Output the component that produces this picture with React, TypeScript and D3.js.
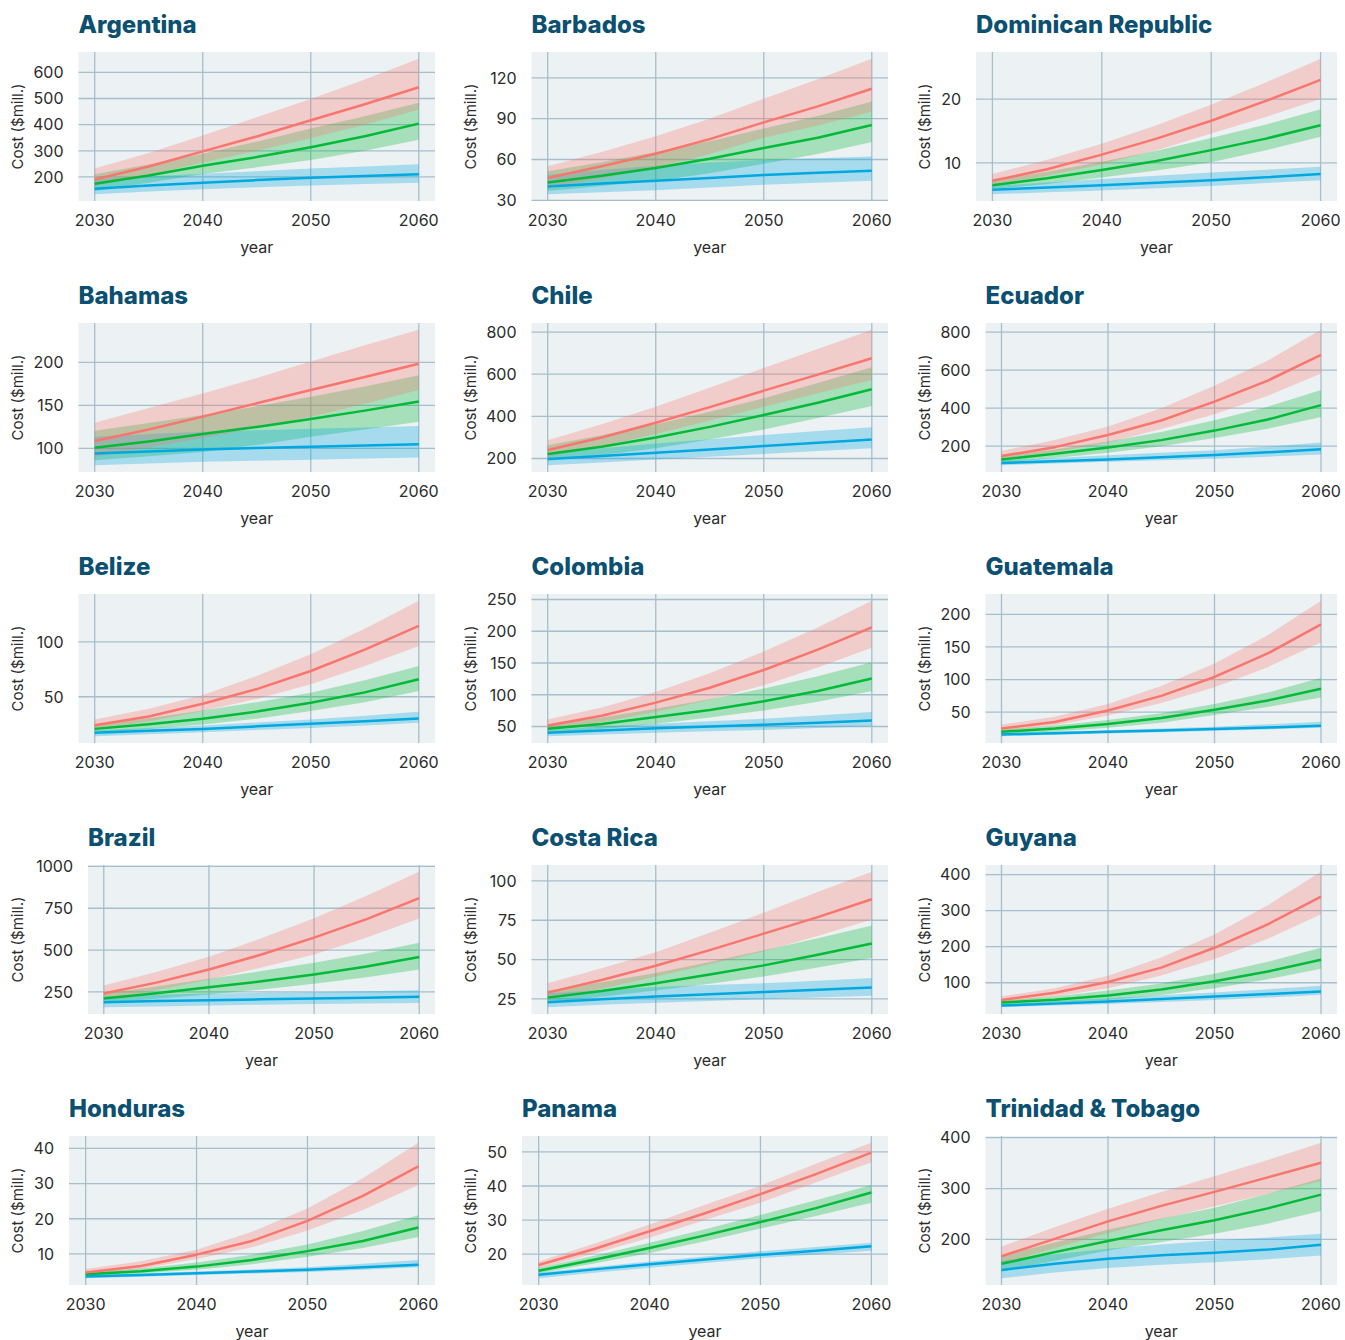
import React from 'react';
import * as d3 from 'd3';

// projection years (every 5 years)
const years = [2030, 2035, 2040, 2045, 2050, 2055, 2060];
const xTicks = [2030, 2040, 2050, 2060];

const countries = [
  'Argentina', 'Barbados', 'Dominican Republic',
  'Bahamas', 'Chile', 'Ecuador',
  'Belize', 'Colombia', 'Guatemala',
  'Brazil', 'Costa Rica', 'Guyana',
  'Honduras', 'Panama', 'Trinidad & Tobago',
];

const yTicks = [
  [200, 300, 400, 500, 600], [30, 60, 90, 120], [10, 20],
  [100, 150, 200], [200, 400, 600, 800], [200, 400, 600, 800],
  [50, 100], [50, 100, 150, 200, 250], [50, 100, 150, 200],
  [250, 500, 750, 1000], [25, 50, 75, 100], [100, 200, 300, 400],
  [10, 20, 30, 40], [20, 30, 40, 50], [200, 300, 400],
];

// red scenario
const redMid = [
  [190, 240, 298, 355, 417, 478, 543],
  [46.4, 55, 64.2, 75, 87.3, 99, 112],
  [7.2, 9.0, 11.3, 13.8, 16.6, 19.7, 23.0],
  [108.6, 122, 137, 152.5, 168, 183, 198.4],
  [240, 300, 370, 444, 522, 598, 676],
  [148, 195, 259, 335, 434, 545, 680],
  [24.1, 32, 43.6, 57, 73.5, 93, 114.6],
  [51.6, 67, 87.6, 111, 139, 171, 206],
  [25, 35, 52.6, 75, 104, 140, 184.5],
  [240, 305, 384, 473, 574, 685, 810],
  [29, 37, 46.1, 56, 66.5, 77, 88.3],
  [52, 72, 102, 142, 197, 262, 339],
  [4.7, 6.6, 9.8, 13.7, 19.4, 26.5, 34.9],
  [16.8, 21.5, 26.7, 32, 37.6, 43.5, 49.8],
  [167, 201, 235.5, 266, 293.4, 322, 350.7],
];
const redLo = [
  [165, 208, 255, 300, 348, 400, 458],
  [39, 46, 54, 64, 76, 85, 95],
  [6.4, 8.0, 9.8, 12.0, 14.6, 17.2, 20.0],
  [90, 101, 112, 124, 137, 152, 168],
  [208, 258, 316, 380, 446, 510, 573],
  [130, 170, 220, 290, 368, 465, 582],
  [20.1, 27.5, 36.9, 48, 61.3, 78, 96.3],
  [43.6, 57, 72.8, 92, 115, 143, 174],
  [21, 30, 44.8, 64, 88.3, 119, 157],
  [204, 260, 324, 395, 474, 575, 688],
  [24.4, 31.5, 39.3, 47, 55.3, 65, 75.5],
  [45, 62, 85, 120, 166, 222, 290],
  [4.0, 5.8, 8.6, 11.9, 16.7, 22.5, 29.6],
  [15.8, 20.2, 24.8, 30, 35.1, 41, 47],
  [152, 183, 212.5, 240, 265, 290, 315],
];
const redHi = [
  [232, 292, 359, 428, 498, 573, 652],
  [55, 65.5, 77, 90, 104.6, 119, 134],
  [8.25, 10.5, 13.0, 15.9, 19.1, 22.6, 26.3],
  [130, 147, 164, 182, 201, 220, 238],
  [287, 362, 446, 536, 629, 720, 811],
  [175, 232, 304, 400, 518, 650, 812],
  [29.3, 39, 51.5, 69, 88.7, 112, 137.5],
  [61, 80, 104.5, 134, 168, 206, 248],
  [31, 43, 62.4, 90, 124.5, 168, 220.7],
  [288, 368, 460, 570, 690, 825, 968],
  [35, 44.5, 54.6, 67, 79.8, 93, 105.8],
  [62, 85, 119.5, 170, 234, 315, 408],
  [5.7, 7.9, 11.2, 16.3, 22.9, 31.5, 41.6],
  [17.8, 23, 28.7, 34.5, 40.1, 46.5, 52.7],
  [186, 224, 260.5, 293, 324, 356, 390],
];

// green scenario
const greenMid = [
  [174, 206, 243, 276, 314, 356, 404],
  [43.1, 48, 53.8, 60.5, 68.4, 76, 85.3],
  [6.5, 7.6, 8.9, 10.3, 12.0, 13.8, 15.9],
  [100.8, 108, 116.7, 125, 134.2, 144, 154.5],
  [221, 256, 300, 350, 406, 465, 529],
  [130, 160, 193, 232, 282, 340, 416],
  [20.7, 25, 29.9, 36.5, 44.5, 54, 65.9],
  [46.3, 54, 64.8, 76, 89.7, 106, 125.7],
  [20, 25, 31.9, 41, 53.6, 68, 86],
  [210, 242, 278, 313, 354, 402, 458],
  [25.8, 30, 35, 40.5, 46.3, 53, 60.2],
  [45, 53, 64.5, 81, 104, 131, 164],
  [4.2, 5.1, 6.4, 8.3, 10.8, 13.7, 17.5],
  [15.1, 18.3, 21.8, 25.5, 29.4, 33.5, 38.1],
  [152, 175, 196.7, 218, 237.5, 261, 288],
];
const greenLo = [
  [146, 178, 211, 237, 265, 300, 342],
  [36.9, 40.5, 44.4, 50, 56.8, 64, 72.9],
  [5.9, 6.7, 7.7, 8.8, 10.1, 12.0, 14.1],
  [86.4, 91, 96, 104, 113.6, 122, 131],
  [189, 215, 248, 290, 338, 392, 449],
  [112, 138, 166, 200, 243, 292, 354],
  [17, 20.5, 24.7, 30, 36.9, 45, 55.2],
  [39.4, 46, 54.2, 64, 75.4, 89, 106],
  [16.4, 20.5, 26, 34, 45.8, 58, 72.7],
  [184, 208, 234, 264, 298, 338, 384],
  [22.6, 26.3, 30.3, 34.6, 39.3, 45, 51],
  [38.4, 44, 52.4, 66, 85, 110, 139],
  [3.8, 4.5, 5.5, 7.1, 9.2, 11.7, 14.8],
  [14.4, 17.2, 20.3, 23.8, 27.5, 31.2, 35.1],
  [137, 158, 178.3, 195, 211, 231, 256],
];
const greenHi = [
  [210, 248, 289, 335, 385, 432, 484],
  [51.3, 58, 65.5, 73.5, 82.8, 92, 102.6],
  [7.2, 8.6, 10.2, 11.9, 13.9, 16.0, 18.4],
  [120.6, 129.5, 139, 149, 160, 172, 185],
  [263, 310, 363, 422, 486, 558, 633],
  [148, 183, 225, 275, 336, 408, 496],
  [24.7, 30.5, 37.5, 45, 53.7, 65, 78],
  [52.6, 64, 78, 93, 109.8, 129, 151],
  [23.6, 29.5, 38, 48.5, 62.4, 80, 102.7],
  [240, 282, 328, 374, 424, 480, 544],
  [30.3, 35.5, 41.4, 48.5, 55.9, 63.5, 71.7],
  [50.5, 62, 78.5, 98, 125, 158, 197],
  [4.7, 5.9, 7.6, 9.8, 12.7, 16.5, 21],
  [16, 19.5, 23.3, 27.3, 31.5, 35.8, 40.3],
  [168.4, 194, 219, 241, 262.5, 290, 319.7],
];

// blue scenario
const blueMid = [
  [155, 167, 178, 188, 197, 204, 210],
  [40.2, 42.3, 44.4, 46.5, 48.6, 50.3, 51.8],
  [5.8, 6.15, 6.5, 6.9, 7.3, 7.75, 8.25],
  [94, 96.5, 98.8, 100.5, 102, 103.5, 105],
  [197, 212, 227, 243, 259, 275, 290],
  [112, 121, 130, 142, 154, 168, 184],
  [17.1, 18.9, 20.7, 23, 25.3, 27.7, 30.2],
  [40, 43.8, 47.3, 50, 52.6, 56, 59.5],
  [15.8, 17.9, 20, 22, 24.1, 26.6, 29.3],
  [188, 195, 200, 205, 210, 215, 220],
  [22.9, 24.8, 26.5, 28, 29.3, 30.8, 32.2],
  [36.5, 42, 47.7, 54.5, 61.7, 68.5, 75.7],
  [3.6, 4.05, 4.5, 5.0, 5.5, 6.2, 6.9],
  [13.9, 15.5, 17, 18.4, 19.8, 21, 22.3],
  [140, 152, 161.8, 169, 173.7, 180, 189.5],
];
const blueLo = [
  [134, 144, 153, 161, 167, 173, 178],
  [34.5, 36, 37.4, 39.4, 41.4, 43, 44.4],
  [5.1, 5.4, 5.7, 6.05, 6.4, 6.85, 7.3],
  [80.5, 82.5, 84.4, 85.7, 87, 88.3, 89.5],
  [168, 181, 195, 208, 221, 235, 248],
  [100, 109, 118, 126, 134, 145, 157],
  [14, 15.8, 17.7, 19.6, 21.6, 23.8, 26.2],
  [34.7, 37.4, 40, 42.4, 44.7, 47.5, 50.5],
  [13.2, 15.3, 17.4, 19.4, 21.5, 23.6, 26],
  [158, 163, 168, 173, 178, 181, 184],
  [19.7, 21.2, 22.6, 23.7, 24.8, 25.9, 27],
  [32, 36.5, 41.2, 46.5, 52.4, 59, 66.4],
  [3.1, 3.55, 4.0, 4.45, 4.9, 5.5, 6.2],
  [12.9, 14.5, 16, 17.4, 18.8, 19.9, 21],
  [123.7, 135, 144, 150, 155, 161, 168.4],
];
const blueHi = [
  [192, 203, 212, 222, 232, 240, 249],
  [48.8, 52.5, 55.5, 57.8, 59.7, 61, 62.2],
  [6.4, 6.95, 7.5, 8.0, 8.5, 8.95, 9.4],
  [113.6, 116.7, 119.5, 121.3, 123, 124.5, 126],
  [224, 248, 271, 291, 311, 330, 348],
  [125, 138, 152, 165, 179, 198, 220],
  [19.5, 21.6, 23.8, 26.5, 29.3, 32.6, 36.3],
  [44.7, 49.5, 54.2, 58.2, 62.2, 67.5, 72.8],
  [18.4, 20.4, 22.5, 25, 27.7, 31.4, 35.5],
  [224, 232, 240, 244, 248, 254, 260],
  [28.6, 30.6, 32.5, 33.8, 35, 36.6, 38.2],
  [41.2, 49, 57, 65, 73, 82, 91.5],
  [4.0, 4.5, 5.0, 5.6, 6.2, 7.2, 8.3],
  [14.6, 16.2, 17.8, 19.3, 20.8, 22.1, 23.3],
  [158.6, 171, 181.6, 190, 198, 204, 211],
];

const RED = '#F8766D';
const GREEN = '#00BA38';
const BLUE = '#00A8E0';
const FONT = 'Inter, "Noto Sans", sans-serif';

const colX = [0, 453, 907];
const rowH = 271;

function Panel({ i }: { i: number }) {
  const row = Math.floor(i / 3);
  const col = i % 3;
  const x0 = colX[col];
  const y0 = row * rowH;
  const ticks = yTicks[i];
  const maxChars = d3.max(ticks, t => String(t).length) as number;

  const left = x0 + 50 + 9.5 * maxChars;
  const right = Math.min(x0 + 435, 1337);
  const top = y0 + 52;
  const bottom = y0 + 201;

  const allLo = [...redLo[i], ...greenLo[i], ...blueLo[i]];
  const allHi = [...redHi[i], ...greenHi[i], ...blueHi[i]];
  const lo = d3.min(allLo) as number;
  const hi = d3.max(allHi) as number;
  const pad = (hi - lo) * 0.05;

  const x = d3.scaleLinear().domain([2028.5, 2061.5]).range([left, right]);
  const y = d3.scaleLinear().domain([lo - pad, hi + pad]).range([bottom, top]);

  const area = (l: number[], h: number[]) =>
    d3.area<number>().x((_, k) => x(years[k])).y0((_, k) => y(l[k])).y1((_, k) => y(h[k]))(years) as string;
  const line = (m: number[]) =>
    d3.line<number>().x((_, k) => x(years[k])).y((_, k) => y(m[k]))(years) as string;

  const grid = '#A6BFCC';

  return (
    <g>
      <text x={left} y={y0 + 33} fontFamily={FONT} fontSize={24} fontWeight={800} fill="#0B4F71">
        {countries[i]}
      </text>
      <rect x={left} y={top} width={right - left} height={bottom - top} fill="#ECF1F3" />
      {ticks.map(t => (
        <line key={'h' + t} x1={left} x2={right} y1={y(t)} y2={y(t)} stroke={grid} strokeWidth={1.3} />
      ))}
      {xTicks.map(t => (
        <line key={'v' + t} x1={x(t)} x2={x(t)} y1={top} y2={bottom} stroke={grid} strokeWidth={1.3} />
      ))}
      <path d={area(greenLo[i], greenHi[i])} fill={GREEN} fillOpacity={0.3} />
      <path d={area(blueLo[i], blueHi[i])} fill={BLUE} fillOpacity={0.3} />
      <path d={area(redLo[i], redHi[i])} fill={RED} fillOpacity={0.3} />
      <path d={line(blueMid[i])} fill="none" stroke={BLUE} strokeWidth={2.5} strokeLinejoin="round" />
      <path d={line(greenMid[i])} fill="none" stroke={GREEN} strokeWidth={2.5} strokeLinejoin="round" />
      <path d={line(redMid[i])} fill="none" stroke={RED} strokeWidth={2.5} strokeLinejoin="round" />
      {ticks.map(t => (
        <text key={'yt' + t} x={left - 15} y={y(t)} dy="0.36em" textAnchor="end"
          fontFamily={FONT} fontSize={16} fill="#2b2b2b">{t}</text>
      ))}
      {xTicks.map(t => (
        <text key={'xt' + t} x={x(t)} y={bottom + 25} textAnchor="middle"
          fontFamily={FONT} fontSize={16} fill="#2b2b2b">{t}</text>
      ))}
      <text x={(left + right) / 2} y={y0 + 253} textAnchor="middle" fontFamily={FONT} fontSize={16} fill="#2b2b2b">year</text>
      <text transform={`translate(${x0 + 23},${(top + bottom) / 2}) rotate(-90)`} textAnchor="middle"
        fontFamily={FONT} fontSize={15} fill="#2b2b2b">Cost ($mill.)</text>
    </g>
  );
}

export default function App() {
  return (
    <div style={{ position: 'absolute', left: 0, top: 0 }}>
      <svg width={1345} height={1340} style={{ display: 'block', background: '#fff' }}>
        {countries.map((_, i) => <Panel key={i} i={i} />)}
      </svg>
    </div>
  );
}
